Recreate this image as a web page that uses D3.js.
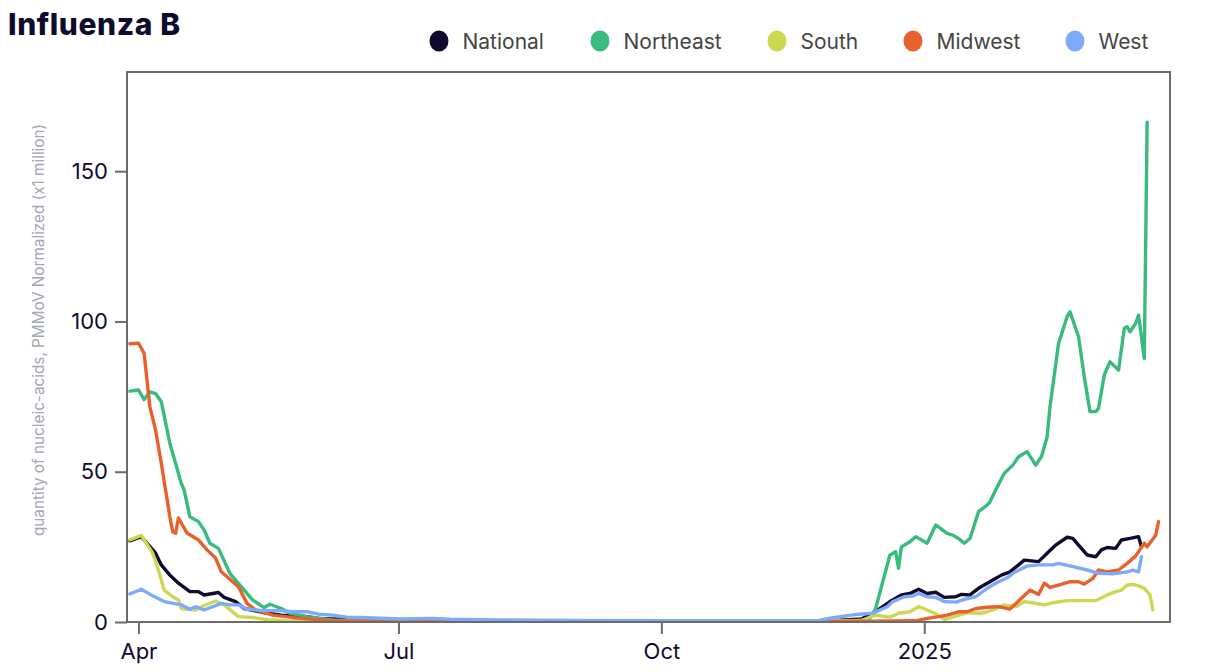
<!DOCTYPE html>
<html>
<head>
<meta charset="utf-8">
<script src="https://cdn.jsdelivr.net/npm/d3@7"></script>
<style>
  html, body { margin: 0; padding: 0; background: #fff; }
  svg { display: block; font-family: Inter, "Noto Sans", sans-serif; }
</style>
</head>
<body>
<svg id="chart" width="1214" height="672"></svg>
<script>
// ---------- DATA ----------
const title = "Influenza B";
const seriesNames = ["National", "Northeast", "South", "Midwest", "West"];
const seriesColors = ["#0f0b2e", "#38bb7c", "#ccd851", "#e8602b", "#7eaafa"];
const yTicks = [0, 50, 100, 150];
const xTickDates = ["2024-04-01", "2024-07-01", "2024-10-01", "2025-01-01"];
const xTickLabels = ["Apr", "Jul", "Oct", "2025"];
const xDomain = ["2024-03-28", "2025-03-28"];
const yMax = 183;
const yLabel = "quantity of nucleic-acids, PMMoV Normalized (x1 million)";

const national = [
  ["2024-03-29", 27], ["2024-04-02", 28.4], ["2024-04-07", 22.9], ["2024-04-09", 19], ["2024-04-12", 15.6],
  ["2024-04-15", 12.9], ["2024-04-19", 10.1], ["2024-04-22", 10.1], ["2024-04-24", 9], ["2024-04-29", 9.8],
  ["2024-05-01", 8.2], ["2024-05-05", 6.8], ["2024-05-08", 4.5], ["2024-05-15", 3.1], ["2024-05-21", 2.3],
  ["2024-05-30", 1.8], ["2024-06-03", 1.2], ["2024-06-20", 0.6], ["2024-07-15", 0.4], ["2024-09-01", 0.3],
  ["2024-10-15", 0.3], ["2024-11-15", 0.3], ["2024-12-01", 0.5], ["2024-12-10", 1.0], ["2024-12-14", 2.9],
  ["2024-12-20", 6.8], ["2024-12-24", 9], ["2024-12-27", 9.5], ["2024-12-30", 10.9], ["2025-01-02", 9.5],
  ["2025-01-05", 9.9], ["2025-01-08", 8.2], ["2025-01-12", 8.4], ["2025-01-14", 9.2], ["2025-01-17", 9],
  ["2025-01-20", 11.2], ["2025-01-25", 14], ["2025-01-28", 15.6], ["2025-01-31", 16.7], ["2025-02-03", 19],
  ["2025-02-05", 20.6], ["2025-02-10", 20.1], ["2025-02-13", 22.9], ["2025-02-16", 25.6], ["2025-02-20", 28.2],
  ["2025-02-22", 27.8], ["2025-02-24", 25.6], ["2025-02-27", 22.3], ["2025-03-02", 21.7], ["2025-03-04", 24],
  ["2025-03-06", 24.8], ["2025-03-09", 24.5], ["2025-03-11", 27.3], ["2025-03-14", 27.8], ["2025-03-17", 28.4],
  ["2025-03-18", 25]
];
const northeast = [
  ["2024-03-29", 76.8], ["2024-04-01", 77.2], ["2024-04-03", 74], ["2024-04-05", 76.6], ["2024-04-07", 76],
  ["2024-04-09", 73.3], ["2024-04-12", 59.4], ["2024-04-14", 52.8], ["2024-04-16", 46.1], ["2024-04-17", 43.9],
  ["2024-04-19", 35], ["2024-04-22", 33.4], ["2024-04-24", 30.6], ["2024-04-26", 26.2], ["2024-04-29", 24.5],
  ["2024-05-03", 16.2], ["2024-05-08", 10.6], ["2024-05-11", 7.3], ["2024-05-15", 4.8], ["2024-05-17", 5.9],
  ["2024-05-21", 4.5], ["2024-05-24", 2.9], ["2024-05-30", 1.8], ["2024-06-08", 0.7], ["2024-07-01", 0.4],
  ["2024-08-15", 0.3], ["2024-10-01", 0.3], ["2024-11-15", 0.3], ["2024-12-10", 0.5], ["2024-12-13", 1.2],
  ["2024-12-15", 4.5], ["2024-12-17", 11.7], ["2024-12-20", 22.3], ["2024-12-22", 23.4], ["2024-12-23", 17.9],
  ["2024-12-24", 25], ["2024-12-27", 26.7], ["2024-12-29", 28.4], ["2025-01-02", 26.2], ["2025-01-05", 32.3],
  ["2025-01-09", 29.5], ["2025-01-11", 28.9], ["2025-01-13", 27.8], ["2025-01-15", 26.2], ["2025-01-17", 27.8],
  ["2025-01-20", 36.7], ["2025-01-23", 38.9], ["2025-01-24", 40], ["2025-01-26", 43.9], ["2025-01-29", 49.5],
  ["2025-02-01", 52.2], ["2025-02-03", 55], ["2025-02-06", 56.7], ["2025-02-09", 52.2], ["2025-02-11", 55],
  ["2025-02-13", 61.6], ["2025-02-14", 71.6], ["2025-02-17", 92.7], ["2025-02-20", 101.6], ["2025-02-21", 103.2],
  ["2025-02-24", 94.9], ["2025-02-26", 81.6], ["2025-02-28", 70], ["2025-03-02", 70], ["2025-03-03", 71.1],
  ["2025-03-05", 82.2], ["2025-03-07", 86.6], ["2025-03-10", 83.8], ["2025-03-12", 97.7], ["2025-03-13", 98.2],
  ["2025-03-14", 96.6], ["2025-03-16", 99.4], ["2025-03-17", 102.1], ["2025-03-19", 87.7], ["2025-03-20", 166.3]
];
const south = [
  ["2024-03-29", 27.3], ["2024-04-02", 28.8], ["2024-04-06", 22.9], ["2024-04-08", 17.3], ["2024-04-10", 10.6],
  ["2024-04-13", 8.4], ["2024-04-15", 7.3], ["2024-04-16", 4.5], ["2024-04-21", 4], ["2024-04-24", 5.5],
  ["2024-04-28", 7], ["2024-05-01", 5.7], ["2024-05-06", 1.8], ["2024-05-11", 1.5], ["2024-05-16", 0.8],
  ["2024-05-23", 0.4], ["2024-07-01", 0.2], ["2024-10-01", 0.2], ["2024-11-15", 0.3], ["2024-12-10", 0.5],
  ["2024-12-15", 2.3], ["2024-12-20", 1.6], ["2024-12-23", 2.9], ["2024-12-27", 3.4], ["2024-12-30", 5.1],
  ["2025-01-02", 4], ["2025-01-05", 2.7], ["2025-01-08", 0.9], ["2025-01-11", 1.6], ["2025-01-16", 3.1],
  ["2025-01-21", 2.9], ["2025-01-25", 4], ["2025-01-29", 5.7], ["2025-02-02", 5.1], ["2025-02-05", 6.8],
  ["2025-02-08", 6.4], ["2025-02-12", 5.7], ["2025-02-15", 6.4], ["2025-02-20", 7.1], ["2025-02-25", 7.1],
  ["2025-03-02", 7.1], ["2025-03-06", 9], ["2025-03-09", 10.1], ["2025-03-11", 10.6], ["2025-03-13", 12.3],
  ["2025-03-15", 12.5], ["2025-03-17", 12], ["2025-03-19", 11.2], ["2025-03-21", 9], ["2025-03-22", 4]
];
const midwest = [
  ["2024-03-29", 92.6], ["2024-04-01", 92.8], ["2024-04-03", 89.4], ["2024-04-05", 71.6], ["2024-04-07", 63.9],
  ["2024-04-09", 52.8], ["2024-04-12", 35], ["2024-04-13", 30], ["2024-04-14", 29.5], ["2024-04-15", 34.6],
  ["2024-04-18", 29.6], ["2024-04-22", 27.3], ["2024-04-25", 24], ["2024-04-28", 21.3], ["2024-04-30", 16.7],
  ["2024-05-04", 13.4], ["2024-05-06", 11.7], ["2024-05-09", 6.2], ["2024-05-12", 4], ["2024-05-18", 2.3],
  ["2024-05-27", 1.3], ["2024-06-08", 0.4], ["2024-07-15", 0.3], ["2024-09-01", 0.2], ["2024-10-15", 0.3],
  ["2024-11-15", 0.2], ["2024-12-15", 0.3], ["2024-12-29", 0.4], ["2025-01-02", 1.2], ["2025-01-06", 1.8],
  ["2025-01-09", 2.3], ["2025-01-13", 3.4], ["2025-01-16", 3.4], ["2025-01-19", 4.5], ["2025-01-23", 4.9],
  ["2025-01-27", 5.1], ["2025-01-31", 4.3], ["2025-02-04", 7.9], ["2025-02-07", 10.6], ["2025-02-10", 9.2],
  ["2025-02-12", 12.9], ["2025-02-14", 11.5], ["2025-02-17", 12.3], ["2025-02-21", 13.4], ["2025-02-24", 13.4],
  ["2025-02-26", 12.6], ["2025-03-01", 14.5], ["2025-03-03", 17.3], ["2025-03-06", 16.7], ["2025-03-10", 17.3],
  ["2025-03-13", 19.5], ["2025-03-16", 22], ["2025-03-19", 26.2], ["2025-03-20", 25], ["2025-03-23", 28.9],
  ["2025-03-24", 33.4]
];
const west = [
  ["2024-03-29", 9.3], ["2024-04-02", 10.9], ["2024-04-06", 8.7], ["2024-04-10", 6.8], ["2024-04-16", 5.7],
  ["2024-04-19", 4.2], ["2024-04-21", 5.1], ["2024-04-24", 4], ["2024-04-30", 6.2], ["2024-05-03", 5.7],
  ["2024-05-06", 5.7], ["2024-05-09", 4.2], ["2024-05-15", 3.8], ["2024-05-21", 3.8], ["2024-05-25", 3.4],
  ["2024-05-30", 3.4], ["2024-06-03", 2.6], ["2024-06-08", 2.3], ["2024-06-13", 1.6], ["2024-06-20", 1.4],
  ["2024-07-02", 1], ["2024-07-13", 1.2], ["2024-07-19", 0.9], ["2024-08-05", 0.7], ["2024-09-01", 0.5],
  ["2024-10-01", 0.4], ["2024-11-01", 0.4], ["2024-11-25", 0.5], ["2024-11-30", 1.4], ["2024-12-09", 2.6],
  ["2024-12-14", 2.9], ["2024-12-19", 5.1], ["2024-12-21", 6.8], ["2024-12-25", 8.4], ["2024-12-28", 8.7],
  ["2024-12-30", 9.5], ["2025-01-02", 8.4], ["2025-01-05", 8.2], ["2025-01-08", 6.8], ["2025-01-12", 6.6],
  ["2025-01-15", 7.5], ["2025-01-19", 8.4], ["2025-01-23", 11.2], ["2025-01-27", 13.4], ["2025-01-30", 14.7],
  ["2025-02-01", 16.2], ["2025-02-06", 18.6], ["2025-02-10", 19], ["2025-02-15", 19], ["2025-02-17", 19.5],
  ["2025-02-22", 18.4], ["2025-02-27", 17.3], ["2025-03-03", 16.2], ["2025-03-08", 16], ["2025-03-13", 16.7],
  ["2025-03-15", 17.3], ["2025-03-17", 16.7], ["2025-03-18", 21.7]
];
const seriesData = [national, northeast, south, midwest, west];

// ---------- CHART ----------
const parse = d3.timeParse("%Y-%m-%d");
const svg = d3.select("#chart");
const plot = { left: 127, right: 1170, top: 72, bottom: 622 };

const x = d3.scaleTime()
  .domain(xDomain.map(parse))
  .range([plot.left, plot.right]);
const y = d3.scaleLinear()
  .domain([0, yMax])
  .range([plot.bottom, plot.top]);

// Title
svg.append("text")
  .attr("x", 8).attr("y", 35)
  .attr("font-size", 30).attr("font-weight", 800)
  .attr("letter-spacing", 0.6)
  .attr("fill", "#0f0b2e")
  .text(title);

// Legend
const legendX = [439, 600, 777, 913, 1075];
const legend = svg.append("g");
seriesNames.forEach((name, i) => {
  const g = legend.append("g").attr("transform", `translate(${legendX[i]},41)`);
  g.append("ellipse").attr("rx", 9.5).attr("ry", 10.5).attr("fill", seriesColors[i]);
  g.append("text").attr("x", 23.5).attr("y", 7.5)
    .attr("font-size", 21).attr("fill", "#444")
    .text(name);
});

// Y axis label
svg.append("text")
  .attr("transform", `translate(44,330) rotate(-90)`)
  .attr("text-anchor", "middle")
  .attr("font-size", 15.3).attr("fill", "#a3a7b3")
  .text(yLabel);

// Axes
const yAxis = svg.append("g")
  .attr("transform", `translate(${plot.left},0)`)
  .call(d3.axisLeft(y).tickValues(yTicks).tickSize(12).tickPadding(7));
const xAxis = svg.append("g")
  .attr("transform", `translate(0,${plot.bottom})`)
  .call(d3.axisBottom(x)
    .tickValues(xTickDates.map(parse))
    .tickFormat((d, i) => xTickLabels[i])
    .tickSize(12).tickPadding(9));

[yAxis, xAxis].forEach(ax => {
  ax.select(".domain").remove();
  ax.selectAll(".tick line").attr("stroke", "#6b6b6b").attr("stroke-width", 2);
  ax.selectAll(".tick text").attr("font-size", 22).attr("fill", "#0f0b2e")
    .attr("font-family", "Inter, 'Noto Sans', sans-serif");
});

// Lines
const line = d3.line()
  .x(d => x(parse(d[0])))
  .y(d => y(d[1]));
const clip = svg.append("clipPath").attr("id", "clip")
  .append("rect").attr("x", plot.left).attr("y", plot.top)
  .attr("width", plot.right - plot.left).attr("height", plot.bottom - plot.top);
const lines = svg.append("g").attr("clip-path", "url(#clip)");
seriesData.forEach((data, i) => {
  lines.append("path")
    .datum(data)
    .attr("fill", "none")
    .attr("stroke", seriesColors[i])
    .attr("stroke-width", 3.4)
    .attr("stroke-linejoin", "round")
    .attr("stroke-linecap", "round")
    .attr("d", line);
});

// Frame
svg.append("rect")
  .attr("x", plot.left).attr("y", plot.top)
  .attr("width", plot.right - plot.left).attr("height", plot.bottom - plot.top)
  .attr("fill", "none").attr("stroke", "#6b6b6b").attr("stroke-width", 2);
</script>
</body>
</html>
